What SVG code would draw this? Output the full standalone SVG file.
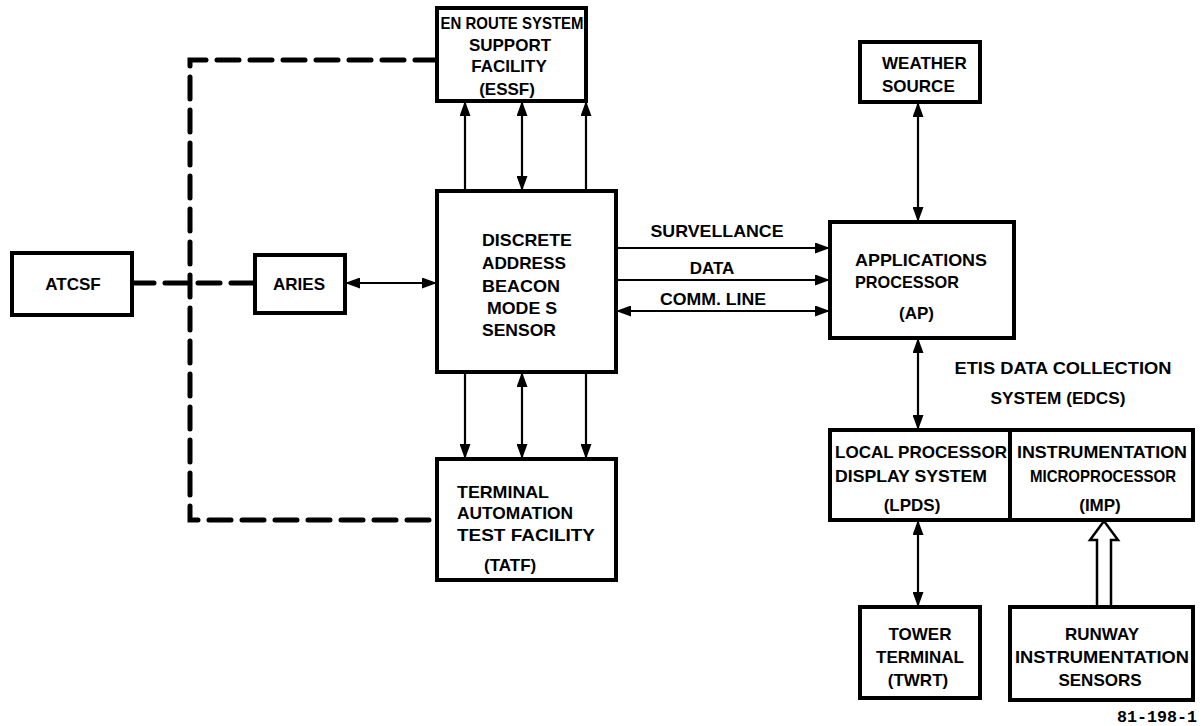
<svg xmlns="http://www.w3.org/2000/svg" width="1204" height="726" viewBox="0 0 1204 726">
<defs>
<marker id="ah" viewBox="0 0 15 11" refX="15" refY="5.5" markerWidth="15" markerHeight="11" markerUnits="userSpaceOnUse" orient="auto-start-reverse">
<path d="M0,0 L15,5.5 L0,11 Z" fill="#000"/>
</marker>
</defs>
<style>
.box{fill:#fff;stroke:#000;stroke-width:4}
.t{font-family:"Liberation Sans",Arial,sans-serif;font-weight:bold;font-size:17px;fill:#000}
.c{text-anchor:middle}
.ln{stroke:#000;stroke-width:2.2;fill:none}
.dash{stroke:#000;stroke-width:5;fill:none;stroke-dasharray:22 11;stroke-linecap:round}
</style>
<rect width="1204" height="726" fill="#fff"/>
<g id="connectors">
<path class="dash" d="M437,60 L190,60 L190,520 L437,520"/>
<path class="dash" d="M132,283 L255,283"/>
<line class="ln" x1="345" y1="283" x2="437" y2="283" marker-start="url(#ah)" marker-end="url(#ah)"/>
<line class="ln" x1="465" y1="191" x2="465" y2="101" marker-end="url(#ah)"/>
<line class="ln" x1="522" y1="191" x2="522" y2="101" marker-start="url(#ah)" marker-end="url(#ah)"/>
<line class="ln" x1="586" y1="191" x2="586" y2="101" marker-end="url(#ah)"/>
<line class="ln" x1="465" y1="372" x2="465" y2="459" marker-end="url(#ah)"/>
<line class="ln" x1="522" y1="372" x2="522" y2="459" marker-start="url(#ah)" marker-end="url(#ah)"/>
<line class="ln" x1="586" y1="372" x2="586" y2="459" marker-end="url(#ah)"/>
<line class="ln" x1="616" y1="248" x2="830" y2="248" marker-end="url(#ah)"/>
<line class="ln" x1="616" y1="280" x2="830" y2="280" marker-end="url(#ah)"/>
<line class="ln" x1="616" y1="311" x2="830" y2="311" marker-start="url(#ah)" marker-end="url(#ah)"/>
<line class="ln" x1="918" y1="102" x2="918" y2="222" marker-start="url(#ah)" marker-end="url(#ah)"/>
<line class="ln" x1="918" y1="338" x2="918" y2="430" marker-start="url(#ah)" marker-end="url(#ah)"/>
<line class="ln" x1="918" y1="520" x2="918" y2="607" marker-start="url(#ah)" marker-end="url(#ah)"/>
<path d="M1097,607 L1097,540 L1090,540 L1104,521 L1118,540 L1111,540 L1111,607" fill="#fff" stroke="#000" stroke-width="2.5"/>
<text class="t c" x="717" y="237" textLength="133" lengthAdjust="spacingAndGlyphs">SURVELLANCE</text>
<text class="t c" x="712" y="274">DATA</text>
<text class="t c" x="713" y="305" textLength="106" lengthAdjust="spacingAndGlyphs">COMM. LINE</text>
</g>
<g id="essf">
<rect class="box" x="437" y="8" width="149" height="93"/>
<text class="t c" x="512" y="29" textLength="143" lengthAdjust="spacingAndGlyphs">EN ROUTE SYSTEM</text>
<text class="t c" x="510" y="51">SUPPORT</text>
<text class="t c" x="509" y="72">FACILITY</text>
<text class="t c" x="507" y="95">(ESSF)</text>
</g>
<g id="atcsf">
<rect class="box" x="12" y="253" width="120" height="62"/>
<text class="t c" x="73" y="290">ATCSF</text>
</g>
<g id="aries">
<rect class="box" x="255" y="255" width="90" height="58"/>
<text class="t c" x="299" y="290">ARIES</text>
</g>
<g id="dabs">
<rect class="box" x="437" y="191" width="179" height="181"/>
<text class="t" x="482" y="246" textLength="90" lengthAdjust="spacingAndGlyphs">DISCRETE</text>
<text class="t" x="482" y="269" textLength="84" lengthAdjust="spacingAndGlyphs">ADDRESS</text>
<text class="t" x="482" y="292" textLength="78" lengthAdjust="spacingAndGlyphs">BEACON</text>
<text class="t" x="487" y="314" textLength="70" lengthAdjust="spacingAndGlyphs">MODE S</text>
<text class="t" x="482" y="336" textLength="74" lengthAdjust="spacingAndGlyphs">SENSOR</text>
</g>
<g id="tatf">
<rect class="box" x="437" y="459" width="179" height="121"/>
<text class="t" x="457" y="498" textLength="92" lengthAdjust="spacingAndGlyphs">TERMINAL</text>
<text class="t" x="457" y="519" textLength="116" lengthAdjust="spacingAndGlyphs">AUTOMATION</text>
<text class="t" x="457" y="541" textLength="138" lengthAdjust="spacingAndGlyphs">TEST FACILITY</text>
<text class="t" x="484" y="571">(TATF)</text>
</g>
<g id="weather">
<rect class="box" x="860" y="42" width="120" height="60"/>
<text class="t" x="882" y="69">WEATHER</text>
<text class="t" x="882" y="92">SOURCE</text>
</g>
<g id="ap">
<rect class="box" x="830" y="222" width="184" height="116"/>
<text class="t" x="855" y="266" textLength="132" lengthAdjust="spacingAndGlyphs">APPLICATIONS</text>
<text class="t" x="855" y="288" textLength="104" lengthAdjust="spacingAndGlyphs">PROCESSOR</text>
<text class="t" x="899" y="319">(AP)</text>
</g>
<g id="edcs-label">
<text class="t c" x="1063" y="374" textLength="217" lengthAdjust="spacingAndGlyphs">ETIS DATA COLLECTION</text>
<text class="t c" x="1058" y="404" textLength="135" lengthAdjust="spacingAndGlyphs">SYSTEM (EDCS)</text>
</g>
<g id="lpds">
<rect class="box" x="830" y="430" width="180" height="90"/>
<text class="t" x="835" y="458" textLength="172" lengthAdjust="spacingAndGlyphs">LOCAL PROCESSOR</text>
<text class="t" x="835" y="482" textLength="152" lengthAdjust="spacingAndGlyphs">DISPLAY SYSTEM</text>
<text class="t c" x="912" y="511">(LPDS)</text>
</g>
<g id="imp">
<rect class="box" x="1010" y="430" width="183" height="90"/>
<text class="t c" x="1102" y="458" textLength="170" lengthAdjust="spacingAndGlyphs">INSTRUMENTATION</text>
<text class="t c" x="1103" y="482" textLength="146" lengthAdjust="spacingAndGlyphs">MICROPROCESSOR</text>
<text class="t c" x="1100" y="511">(IMP)</text>
</g>
<g id="twrt">
<rect class="box" x="860" y="607" width="120" height="91"/>
<text class="t c" x="920" y="640">TOWER</text>
<text class="t c" x="920" y="663">TERMINAL</text>
<text class="t c" x="918" y="686">(TWRT)</text>
</g>
<g id="runway">
<rect class="box" x="1010" y="607" width="183" height="93"/>
<text class="t c" x="1102" y="640">RUNWAY</text>
<text class="t c" x="1102" y="663" textLength="174" lengthAdjust="spacingAndGlyphs">INSTRUMENTATION</text>
<text class="t c" x="1100" y="686">SENSORS</text>
</g>
<text x="1157" y="722" textLength="80" lengthAdjust="spacingAndGlyphs" style="font-family:'Liberation Mono',monospace;font-size:16px;font-weight:bold;text-anchor:middle">81-198-1</text>
</svg>
